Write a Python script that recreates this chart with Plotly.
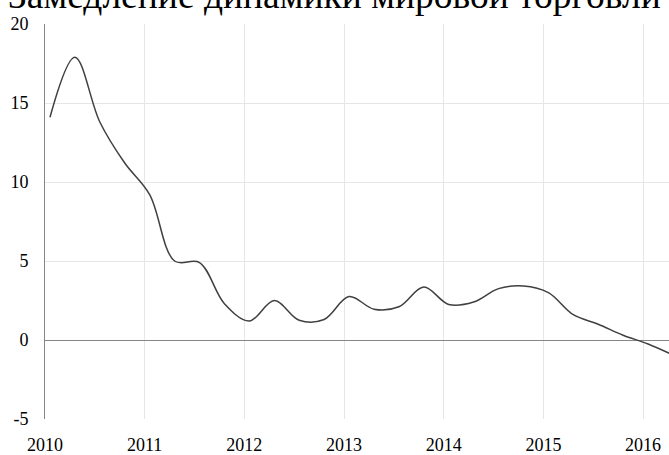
import plotly.graph_objects as go

title_text = "Замедление динамики мировой торговли"

x_years = [2010.05, 2010.30, 2010.55, 2010.80, 2011.05, 2011.30, 2011.55, 2011.80,
           2012.05, 2012.30, 2012.55, 2012.80, 2013.05, 2013.30, 2013.55, 2013.80,
           2014.05, 2014.30, 2014.55, 2014.80, 2015.05, 2015.30, 2015.55, 2015.80,
           2016.05, 2016.30]
values = [14.1, 17.9, 13.8, 11.2, 9.2, 5.0, 4.9, 2.3,
          1.2, 2.5, 1.25, 1.3, 2.75, 1.95, 2.1, 3.35,
          2.25, 2.4, 3.25, 3.42, 3.0, 1.6, 1.0, 0.3,
          -0.25, -0.95]

x_ticks = [2010, 2011, 2012, 2013, 2014, 2015, 2016]
x_tick_labels = ["2010", "2011", "2012", "2013", "2014", "2015", "2016"]
y_ticks = [-5, 0, 5, 10, 15, 20]
y_tick_labels = ["-5", "0", "5", "10", "15", "20"]

font_family = "Liberation Serif, Times New Roman, serif"

fig = go.Figure()
fig.add_trace(go.Scatter(
    x=x_years, y=values, mode="lines",
    line=dict(color="#404040", width=1.5, shape="spline", smoothing=1.0),
    showlegend=False, hoverinfo="skip",
))

fig.update_layout(
    width=669, height=455,
    margin=dict(l=45, r=0, t=24, b=31),
    paper_bgcolor="white", plot_bgcolor="white",
    font=dict(family=font_family, color="#000000"),
    showlegend=False,
    xaxis=dict(
        range=[2010, 2016.26], tickmode="array", tickvals=x_ticks, ticktext=x_tick_labels,
        showgrid=True, gridcolor="#e6e6e6", gridwidth=1,
        zeroline=False, showline=False, ticks="",
        tickfont=dict(size=18, family=font_family, color="#000000"),
        ticklabelstandoff=13,
    ),
    yaxis=dict(
        range=[-5, 20], tickmode="array", tickvals=y_ticks, ticktext=y_tick_labels,
        showgrid=True, gridcolor="#e6e6e6", gridwidth=1,
        zeroline=True, zerolinecolor="#868686", zerolinewidth=1,
        showline=True, linecolor="#868686", linewidth=1, ticks="",
        tickfont=dict(size=18, family=font_family, color="#000000"),
        ticklabelstandoff=12,
    ),
    annotations=[dict(
        text=title_text, xref="paper", yref="paper",
        x=(334 - 45) / 624, y=1.0725, xanchor="center", yanchor="middle",
        showarrow=False, font=dict(size=37.5, family=font_family, color="#000000"),
    )],
)

fig.write_html("out.html", config={"displayModeBar": False},
               post_script="document.body.style.margin='0';")
